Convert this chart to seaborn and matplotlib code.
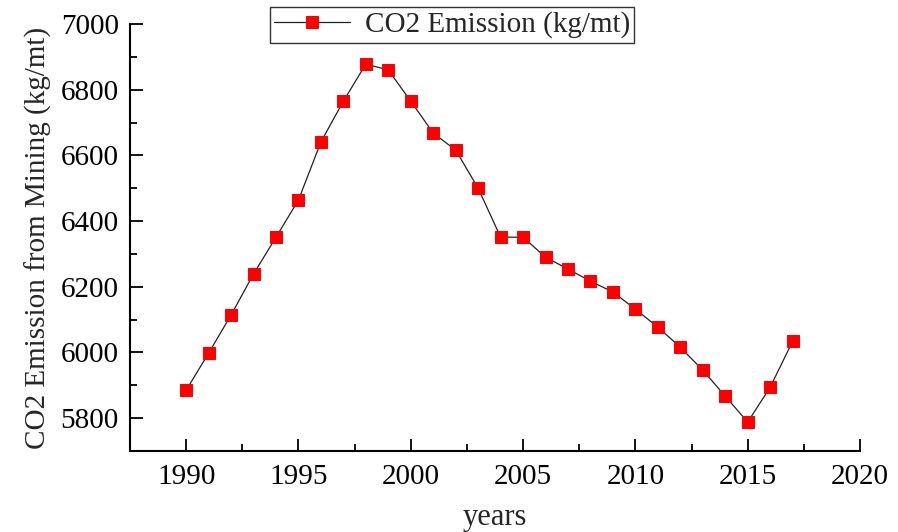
import numpy as np
import pandas as pd
import matplotlib
matplotlib.use("Agg")
import matplotlib.pyplot as plt
import seaborn as sns
from matplotlib.ticker import MultipleLocator

years = list(range(1990, 2018))
emission = [5885, 5998, 6114, 6239, 6351, 6464, 6641, 6765, 6878, 6860,
            6765, 6668, 6616, 6500, 6351, 6351, 6290, 6254, 6217, 6184,
            6132, 6077, 6016, 5946, 5867, 5788, 5894, 6034]
series_label = "CO2 Emission (kg/mt)"

df = pd.DataFrame({"year": years, "emission": emission})

sns.set_style("ticks")
plt.rcParams['font.family'] = ['Liberation Serif', 'DejaVu Serif']

fig = plt.figure(figsize=(8.98, 5.32), dpi=100)
ax = fig.add_axes([130 / 898, 1 - 451 / 532, (860 - 130) / 898, (451 - 24) / 532])

sns.lineplot(data=df, x="year", y="emission", ax=ax, color="#222222", linewidth=0.9,
             marker="s", markersize=8, markerfacecolor="red", markeredgecolor="red",
             label=series_label)

ax.set_xlim(1987.5, 2020)
ax.set_ylim(5700, 7000)
ax.xaxis.set_major_locator(MultipleLocator(5))
ax.xaxis.set_minor_locator(MultipleLocator(2.5))
ax.yaxis.set_major_locator(MultipleLocator(200))
ax.yaxis.set_minor_locator(MultipleLocator(100))
ax.tick_params(which="both", direction="in", width=1.3, colors="black", labelsize=21)
ax.tick_params(which="major", length=9)
ax.tick_params(which="minor", length=5)
ax.tick_params(axis="x", pad=9)
ax.tick_params(axis="y", pad=8)

for side in ["top", "right"]:
    ax.spines[side].set_visible(False)
for side in ["left", "bottom"]:
    ax.spines[side].set_linewidth(1.5)
    ax.spines[side].set_color("black")

ax.set_xlabel("years", fontsize=22, labelpad=10)
ax.set_ylabel("CO2 Emission from Mining (kg/mt)", fontsize=21, labelpad=6)

leg = ax.legend(loc="center", bbox_to_anchor=(452 / 898, 1 - 25 / 532),
                bbox_transform=fig.transFigure, fontsize=21, frameon=True,
                fancybox=False, edgecolor="black", borderpad=0.15, handlelength=2.6,
                handletextpad=0.5)
leg.get_frame().set_linewidth(1.0)

fig.savefig("out.png", dpi=100)
